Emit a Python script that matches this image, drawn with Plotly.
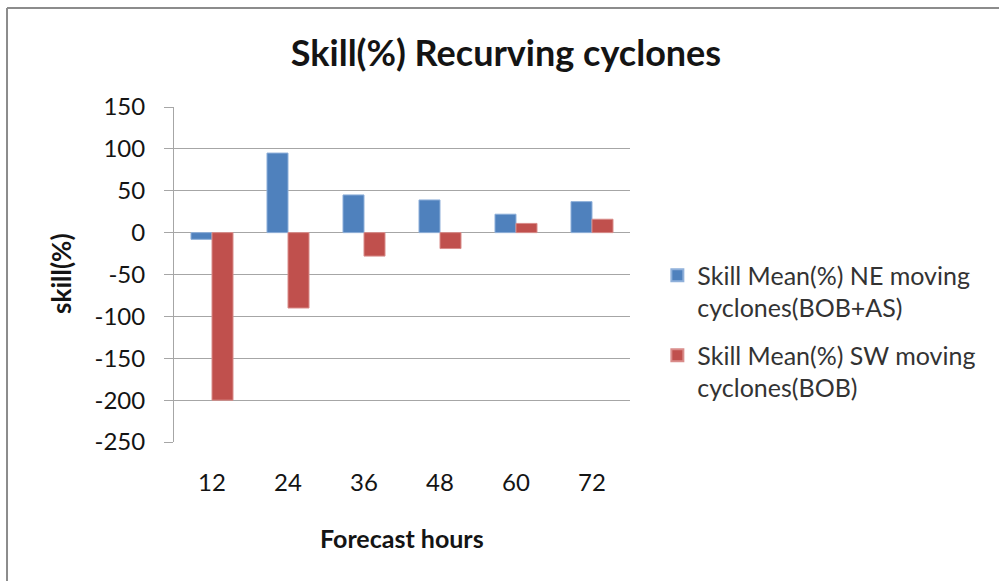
import plotly.graph_objects as go

# Forecast lead times (hours) and mean skill (%) for recurving cyclones
forecast_hours = ["12", "24", "36", "48", "60", "72"]
ne_moving_skill = [-8, 95, 45, 39, 22, 37]
sw_moving_skill = [-200, -90, -28, -19, 11, 16]
y_ticks = [150, 100, 50, 0, -50, -100, -150, -200, -250]

ne_name = "Skill Mean(%) NE moving<br>cyclones(BOB+AS)"
sw_name = "Skill Mean(%) SW moving<br>cyclones(BOB)"

FONT = "Lato"
TEXT = "#141414"

fig = go.Figure()
fig.add_trace(go.Bar(
    x=forecast_hours, y=ne_moving_skill, name=ne_name, legendgroup="ne",
    marker=dict(color="#4F81BD", line=dict(color="#8fb0da", width=1)),
))
fig.add_trace(go.Bar(
    x=forecast_hours, y=sw_moving_skill, name=sw_name, legendgroup="sw",
    marker=dict(color="#C0504D", line=dict(color="#d98c8a", width=1)),
))

fig.update_layout(
    width=999, height=581,
    margin=dict(l=174, r=369, t=107, b=139),
    paper_bgcolor="white", plot_bgcolor="white",
    font=dict(family=FONT, color=TEXT, size=24),
    barmode="group", bargap=0.447, bargroupgap=0,
    title=dict(
        text="<b>Skill(%) Recurving cyclones</b>",
        x=506 / 999, xanchor="center",
        y=1 - 53 / 581, yanchor="middle",
        font=dict(family=FONT, size=36, color=TEXT),
    ),
    showlegend=True,
    legend=dict(
        x=1.06, y=0.566, xanchor="left", yanchor="top",
        font=dict(family=FONT, size=25, color="#333333"),
        tracegroupgap=12, itemsizing="constant", valign="top",
        bgcolor="rgba(0,0,0,0)", borderwidth=0,
    ),
    xaxis=dict(
        type="category", showline=False, showgrid=False, ticks="",
        ticklabelstandoff=24,
        tickfont=dict(family=FONT, size=24, color=TEXT),
    ),
    yaxis=dict(
        range=[-250, 150], tickvals=y_ticks, ticktext=[str(v) for v in y_ticks],
        showgrid=True, gridcolor="#a6a6a6", gridwidth=1,
        zeroline=True, zerolinecolor="#a6a6a6", zerolinewidth=1,
        showline=True, linecolor="#a6a6a6", linewidth=1,
        ticks="outside", ticklen=9, tickcolor="#a6a6a6",
        ticklabelstandoff=14,
        tickfont=dict(family=FONT, size=24, color=TEXT),
    ),
)

# Axis titles
fig.add_annotation(
    text="<b>Forecast hours</b>", xref="paper", yref="paper",
    x=0.501, y=-0.2866, xanchor="center", yanchor="middle",
    showarrow=False, font=dict(family=FONT, size=25, color=TEXT),
)
fig.add_annotation(
    text="<b>skill(%)</b>", xref="paper", yref="paper",
    x=-0.248, y=0.5015, xanchor="center", yanchor="middle", textangle=-90,
    showarrow=False, font=dict(family=FONT, size=26, color=TEXT),
)

# Chart-area frame (left and top edges)
frame = dict(color="#8c8c8c", width=2)
fig.add_shape(type="line", xref="paper", yref="paper",
              x0=-0.3662, x1=1.9, y0=1.2955, y1=1.2955, line=frame)
fig.add_shape(type="line", xref="paper", yref="paper",
              x0=-0.3662, x1=-0.3662, y0=1.2955, y1=-0.5, line=frame)

fig.write_html("out.html")
